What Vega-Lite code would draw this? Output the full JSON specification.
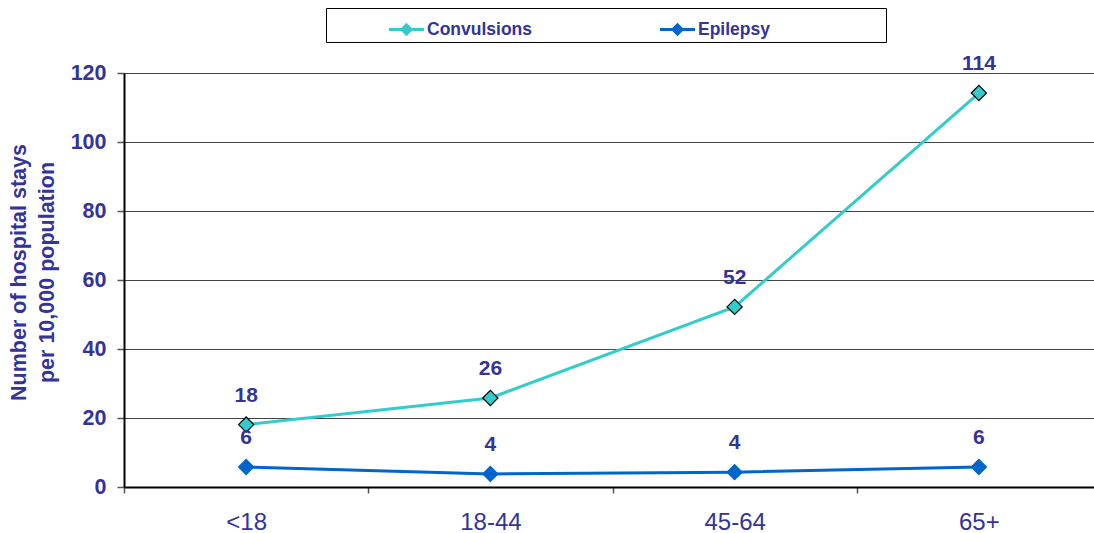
{
  "$schema": "https://vega.github.io/schema/vega-lite/v6.json",
  "width": 977,
  "height": 414,
  "autosize": {"type": "none"},
  "padding": {"left": 124, "top": 73, "right": 0, "bottom": 46},
  "background": "white",
  "config": {"view": {"stroke": null}, "font": "Liberation Sans"},
  "data": {
    "values": [
      {"age": "<18", "series": "Convulsions", "value": 18.1},
      {"age": "18-44", "series": "Convulsions", "value": 25.8},
      {"age": "45-64", "series": "Convulsions", "value": 52.2},
      {"age": "65+", "series": "Convulsions", "value": 114.2},
      {"age": "<18", "series": "Epilepsy", "value": 5.8},
      {"age": "18-44", "series": "Epilepsy", "value": 3.8},
      {"age": "45-64", "series": "Epilepsy", "value": 4.3},
      {"age": "65+", "series": "Epilepsy", "value": 5.8}
    ]
  },
  "encoding": {
    "x": {
      "field": "age",
      "type": "nominal",
      "sort": ["<18", "18-44", "45-64", "65+"],
      "scale": {"paddingInner": 0, "paddingOuter": 0},
      "axis": {
        "title": null,
        "labelAngle": 0,
        "tickBand": "extent",
        "domainColor": "black",
        "domainWidth": 2,
        "tickColor": "#555555",
        "tickSize": 6,
        "tickWidth": 1.5,
        "labelFontSize": 24,
        "labelColor": "#333399",
        "labelPadding": 17,
        "grid": false
      }
    },
    "y": {
      "field": "value",
      "type": "quantitative",
      "scale": {"domain": [0, 120], "nice": false},
      "axis": {
        "values": [0, 20, 40, 60, 80, 100, 120],
        "title": ["Number of hospital stays", "per 10,000 population"],
        "titleFontSize": 21.5,
        "titleFontWeight": "bold",
        "titleColor": "#333399",
        "titleLineHeight": 28,
        "titlePadding": 12,
        "titleY": 199,
        "labelFontSize": 21.5,
        "labelFontWeight": "bold",
        "labelColor": "#333399",
        "labelPadding": 11,
        "domainColor": "black",
        "domainWidth": 2,
        "tickColor": "#555555",
        "tickSize": 7,
        "tickWidth": 1.5,
        "grid": true,
        "gridColor": "#444444",
        "gridWidth": 1.2
      }
    },
    "color": {
      "field": "series",
      "type": "nominal",
      "scale": {"domain": ["Convulsions", "Epilepsy"], "range": ["#33CCCC", "#0066CC"]},
      "legend": {
        "orient": "none",
        "legendX": 202,
        "legendY": -65,
        "direction": "horizontal",
        "title": "\u00a0",
        "titleOrient": "left",
        "titleFontSize": 17,
        "titlePadding": 59,
        "strokeColor": "black",
        "fillColor": "white",
        "padding": 4,
        "columnPadding": 127,
        "symbolType": "M-1,-0.09 L1,-0.09 L1,0.09 L-1,0.09 Z M0,-0.38 L0.38,0 L0,0.38 L-0.38,0 Z",
        "symbolSize": 1225,
        "symbolStrokeWidth": 0,
        "symbolOpacity": 1,
        "labelOffset": 3,
        "labelFontSize": 17.5,
        "labelFontWeight": "bold",
        "labelColor": "#333399",
        "labelLimit": 400,
        "labelExpr": "datum.value == 'Epilepsy' ? 'Epilepsy\u00a0\u00a0\u00a0\u00a0\u00a0\u00a0\u00a0\u00a0\u00a0\u00a0\u00a0\u00a0\u00a0\u00a0\u00a0\u00a0\u00a0\u00a0\u00a0\u00a0\u00a0\u00a0\u00a0\u200b' : datum.label"
      }
    }
  },
  "layer": [
    {
      "mark": {"type": "line", "strokeWidth": 3}
    },
    {
      "mark": {"type": "point", "shape": "diamond", "filled": true, "size": 230, "opacity": 1, "strokeWidth": 1.2},
      "encoding": {
        "stroke": {
          "condition": {"test": "datum.series == 'Convulsions'", "value": "black"},
          "value": "#0066CC"
        }
      }
    },
    {
      "mark": {"type": "text", "dy": -29, "fontSize": 21, "fontWeight": "bold", "baseline": "middle"},
      "encoding": {
        "text": {"field": "value", "type": "quantitative", "format": ".0f"},
        "color": {"value": "#333399"}
      }
    }
  ]
}
